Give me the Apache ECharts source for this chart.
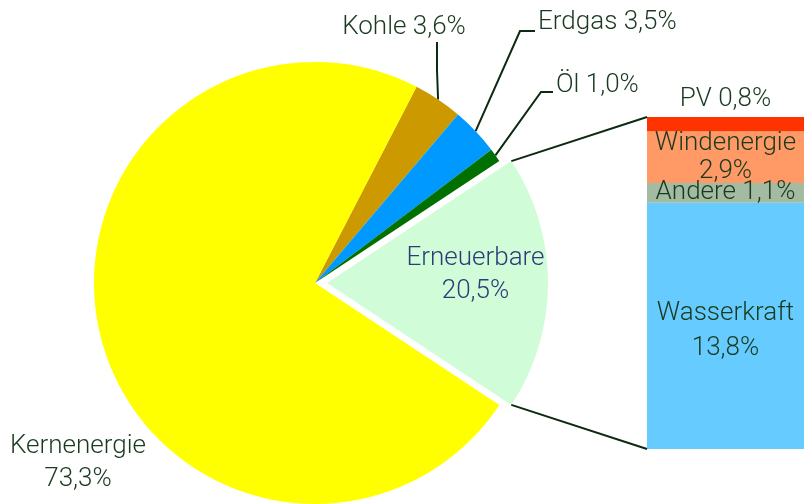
<!DOCTYPE html>
<html>
<head>
<meta charset="utf-8">
<script src="https://cdn.jsdelivr.net/npm/echarts@6/dist/echarts.min.js"></script>
<style>
html,body{margin:0;padding:0;background:#fff;}
#main{width:804px;height:504px;}
</style>
</head>
<body>
<div id="main"></div>
<script>
// ---- data ----
const pieNames  = ['Kohle', 'Erdgas', 'Öl', 'Erneuerbare', 'Kernenergie'];
const pieValues = [3.6, 3.5, 1.0, 18.6, 73.3];          // slice sizes as drawn
const pieShares = ['3,6%', '3,5%', '1,0%', '20,5%', '73,3%']; // printed shares
const pieColors = ['#cc9900', '#0099ff', '#007000', '#d0fcd8', '#ffff00'];

const barNames  = ['Wasserkraft', 'Andere', 'Windenergie', 'PV'];
const barValues = [13.8, 1.1, 2.9, 0.8];
const barShares = ['13,8%', '1,1%', '2,9%', '0,8%'];
const barColors = ['#66ccff', '#a3bba3', '#ff9966', '#ff3300'];
const barCategory = ['Erneuerbare'];

// ---- layout ----
const FONT = 'Roboto';
const WEIGHT = 300;
const TXT = '#1a3a20';
const LINE = '#0d2a10';
const PIE_C = [315, 283];
const PIE_R = 221;
const OFFSET = 12;
const explodeIdx = 3;

const total = pieValues.reduce((a, b) => a + b, 0);
let before = 0;
for (let i = 0; i < explodeIdx; i++) before += pieValues[i];
const startAngle = (before + pieValues[explodeIdx] / 2) / total * 360;

function midAngleDeg(i) {
  let c = 0;
  for (let k = 0; k < i; k++) c += pieValues[k];
  return startAngle - (c + pieValues[i] / 2) / total * 360;
}
function edgeAngleDeg(i) {
  let c = 0;
  for (let k = 0; k < i; k++) c += pieValues[k];
  return startAngle - c / total * 360;
}
function piePoint(angDeg, r) {
  const a = angDeg * Math.PI / 180;
  return [PIE_C[0] + r * Math.cos(a), PIE_C[1] - r * Math.sin(a)];
}

const labelSpec = {
  0: { x: 404, y: 27, align: 'center', mid: [437, 70], end: [437, 42] },
  1: { x: 538, y: 22, align: 'left', mid: [520, 31], end: [535, 31] },
  2: { x: 556, y: 85, align: 'left', mid: [541, 92], end: [553, 92] },
  4: { x: 78, y: 463, align: 'center' }
};

const textStyleBase = { fontFamily: FONT, fontWeight: WEIGHT, fontSize: 26 };

const pieData = pieNames.map((n, i) => {
  const item = {
    name: n,
    value: pieValues[i],
    itemStyle: { color: pieColors[i] },
    labelLine: { show: i < 3, lineStyle: { color: LINE, width: 2 } }
  };
  if (i === explodeIdx) {
    item.selected = true;
    item.label = {
      position: 'inside',
      color: '#2d3c78',
      padding: [0, 0, 0, 70],
      formatter: '{t|' + n + '}\n{t|' + pieShares[i] + '}\n{s| }',
      rich: {
        t: Object.assign({ color: '#2d3c78', lineHeight: 33 }, textStyleBase),
        s: { fontSize: 1, lineHeight: 17 }
      }
    };
  }
  return item;
});

const barLineHeights = [35, 30, 28, 30];
const barSeries = barNames.map((n, i) => {
  const lab = {
    show: true,
    position: i === 3 ? 'top' : 'inside',
    distance: 3,
    color: TXT,
    fontFamily: FONT,
    fontWeight: WEIGHT,
    fontSize: 26,
    lineHeight: barLineHeights[i],
    formatter: (i === 2) ? (n + '\n' + barShares[i]) : (n + ' ' + barShares[i])
  };
  if (i === 0) {
    lab.formatter = '{s| }\n{t|' + n + '}\n{t|' + barShares[i] + '}';
    lab.rich = {
      t: Object.assign({ color: TXT, lineHeight: barLineHeights[i] }, textStyleBase),
      s: { fontSize: 1, lineHeight: 10 }
    };
  }
  return {
    type: 'bar',
    name: n,
    stack: 'ern',
    xAxisIndex: 0,
    yAxisIndex: 0,
    barWidth: '100%',
    data: [barValues[i]],
    itemStyle: { color: barColors[i] },
    silent: true,
    label: lab
  };
});

const chart = echarts.init(document.getElementById('main'), null, { renderer: 'canvas' });

const option = {
  animation: false,
  backgroundColor: '#ffffff',
  grid: { left: 647, top: 117, width: 157, height: 332, containLabel: false },
  xAxis: { type: 'category', data: barCategory, show: false },
  yAxis: { type: 'value', min: 0, max: barValues.reduce((a, b) => a + b, 0), show: false },
  series: [
    {
      type: 'pie',
      center: PIE_C,
      radius: PIE_R,
      startAngle: startAngle,
      clockwise: true,
      selectedMode: 'single',
      selectedOffset: OFFSET,
      silent: true,
      avoidLabelOverlap: false,
      data: pieData,
      label: {
        show: true,
        position: 'outside',
        color: TXT,
        fontFamily: FONT,
        fontWeight: WEIGHT,
        fontSize: 26,
        lineHeight: 33,
        formatter: p => {
          const i = p.dataIndex;
          return (i >= 3) ? (p.name + '\n' + pieShares[i]) : (p.name + ' ' + pieShares[i]);
        }
      },
      labelLine: { show: true, length: 10, length2: 10, lineStyle: { color: LINE, width: 2 } },
      labelLayout: params => {
        const i = params.dataIndex;
        const s = labelSpec[i];
        if (!s) return {};
        const res = { x: s.x, y: s.y, align: s.align, verticalAlign: 'middle', hideOverlap: false, moveOverlap: null };
        if (s.mid) {
          const start = piePoint(midAngleDeg(i), PIE_R);
          res.labelLinePoints = [start, s.mid, s.end];
        }
        return res;
      }
    }
  ].concat(barSeries)
};

chart.setOption(option);

// connector lines from exploded slice corners to the stacked bar
(function () {
  const topVal = barValues.reduce((a, b) => a + b, 0);
  const pTop = chart.convertToPixel({ xAxisIndex: 0, yAxisIndex: 0 }, [barCategory[0], topVal]);
  const pBot = chart.convertToPixel({ xAxisIndex: 0, yAxisIndex: 0 }, [barCategory[0], 0]);
  let barLeft = 647;
  try {
    const lay = chart.getModel().getSeriesByIndex(1).getData().getItemLayout(0);
    barLeft = Math.min(lay.x, lay.x + lay.width);
  } catch (e) {}
  const mid = midAngleDeg(explodeIdx) * Math.PI / 180;
  const dx = OFFSET * Math.cos(mid), dy = -OFFSET * Math.sin(mid);
  const a1 = edgeAngleDeg(explodeIdx);
  const a2 = edgeAngleDeg(explodeIdx + 1);
  const s1 = piePoint(a1, PIE_R); s1[0] += dx; s1[1] += dy;
  const s2 = piePoint(a2, PIE_R); s2[0] += dx; s2[1] += dy;
  chart.setOption({
    graphic: [
      { type: 'line', z: 10, shape: { x1: s1[0], y1: s1[1], x2: barLeft, y2: pTop[1] }, style: { stroke: LINE, lineWidth: 2 } },
      { type: 'line', z: 10, shape: { x1: s2[0], y1: s2[1], x2: barLeft, y2: pBot[1] }, style: { stroke: LINE, lineWidth: 2 } }
    ]
  });
})();
</script>
</body>
</html>
